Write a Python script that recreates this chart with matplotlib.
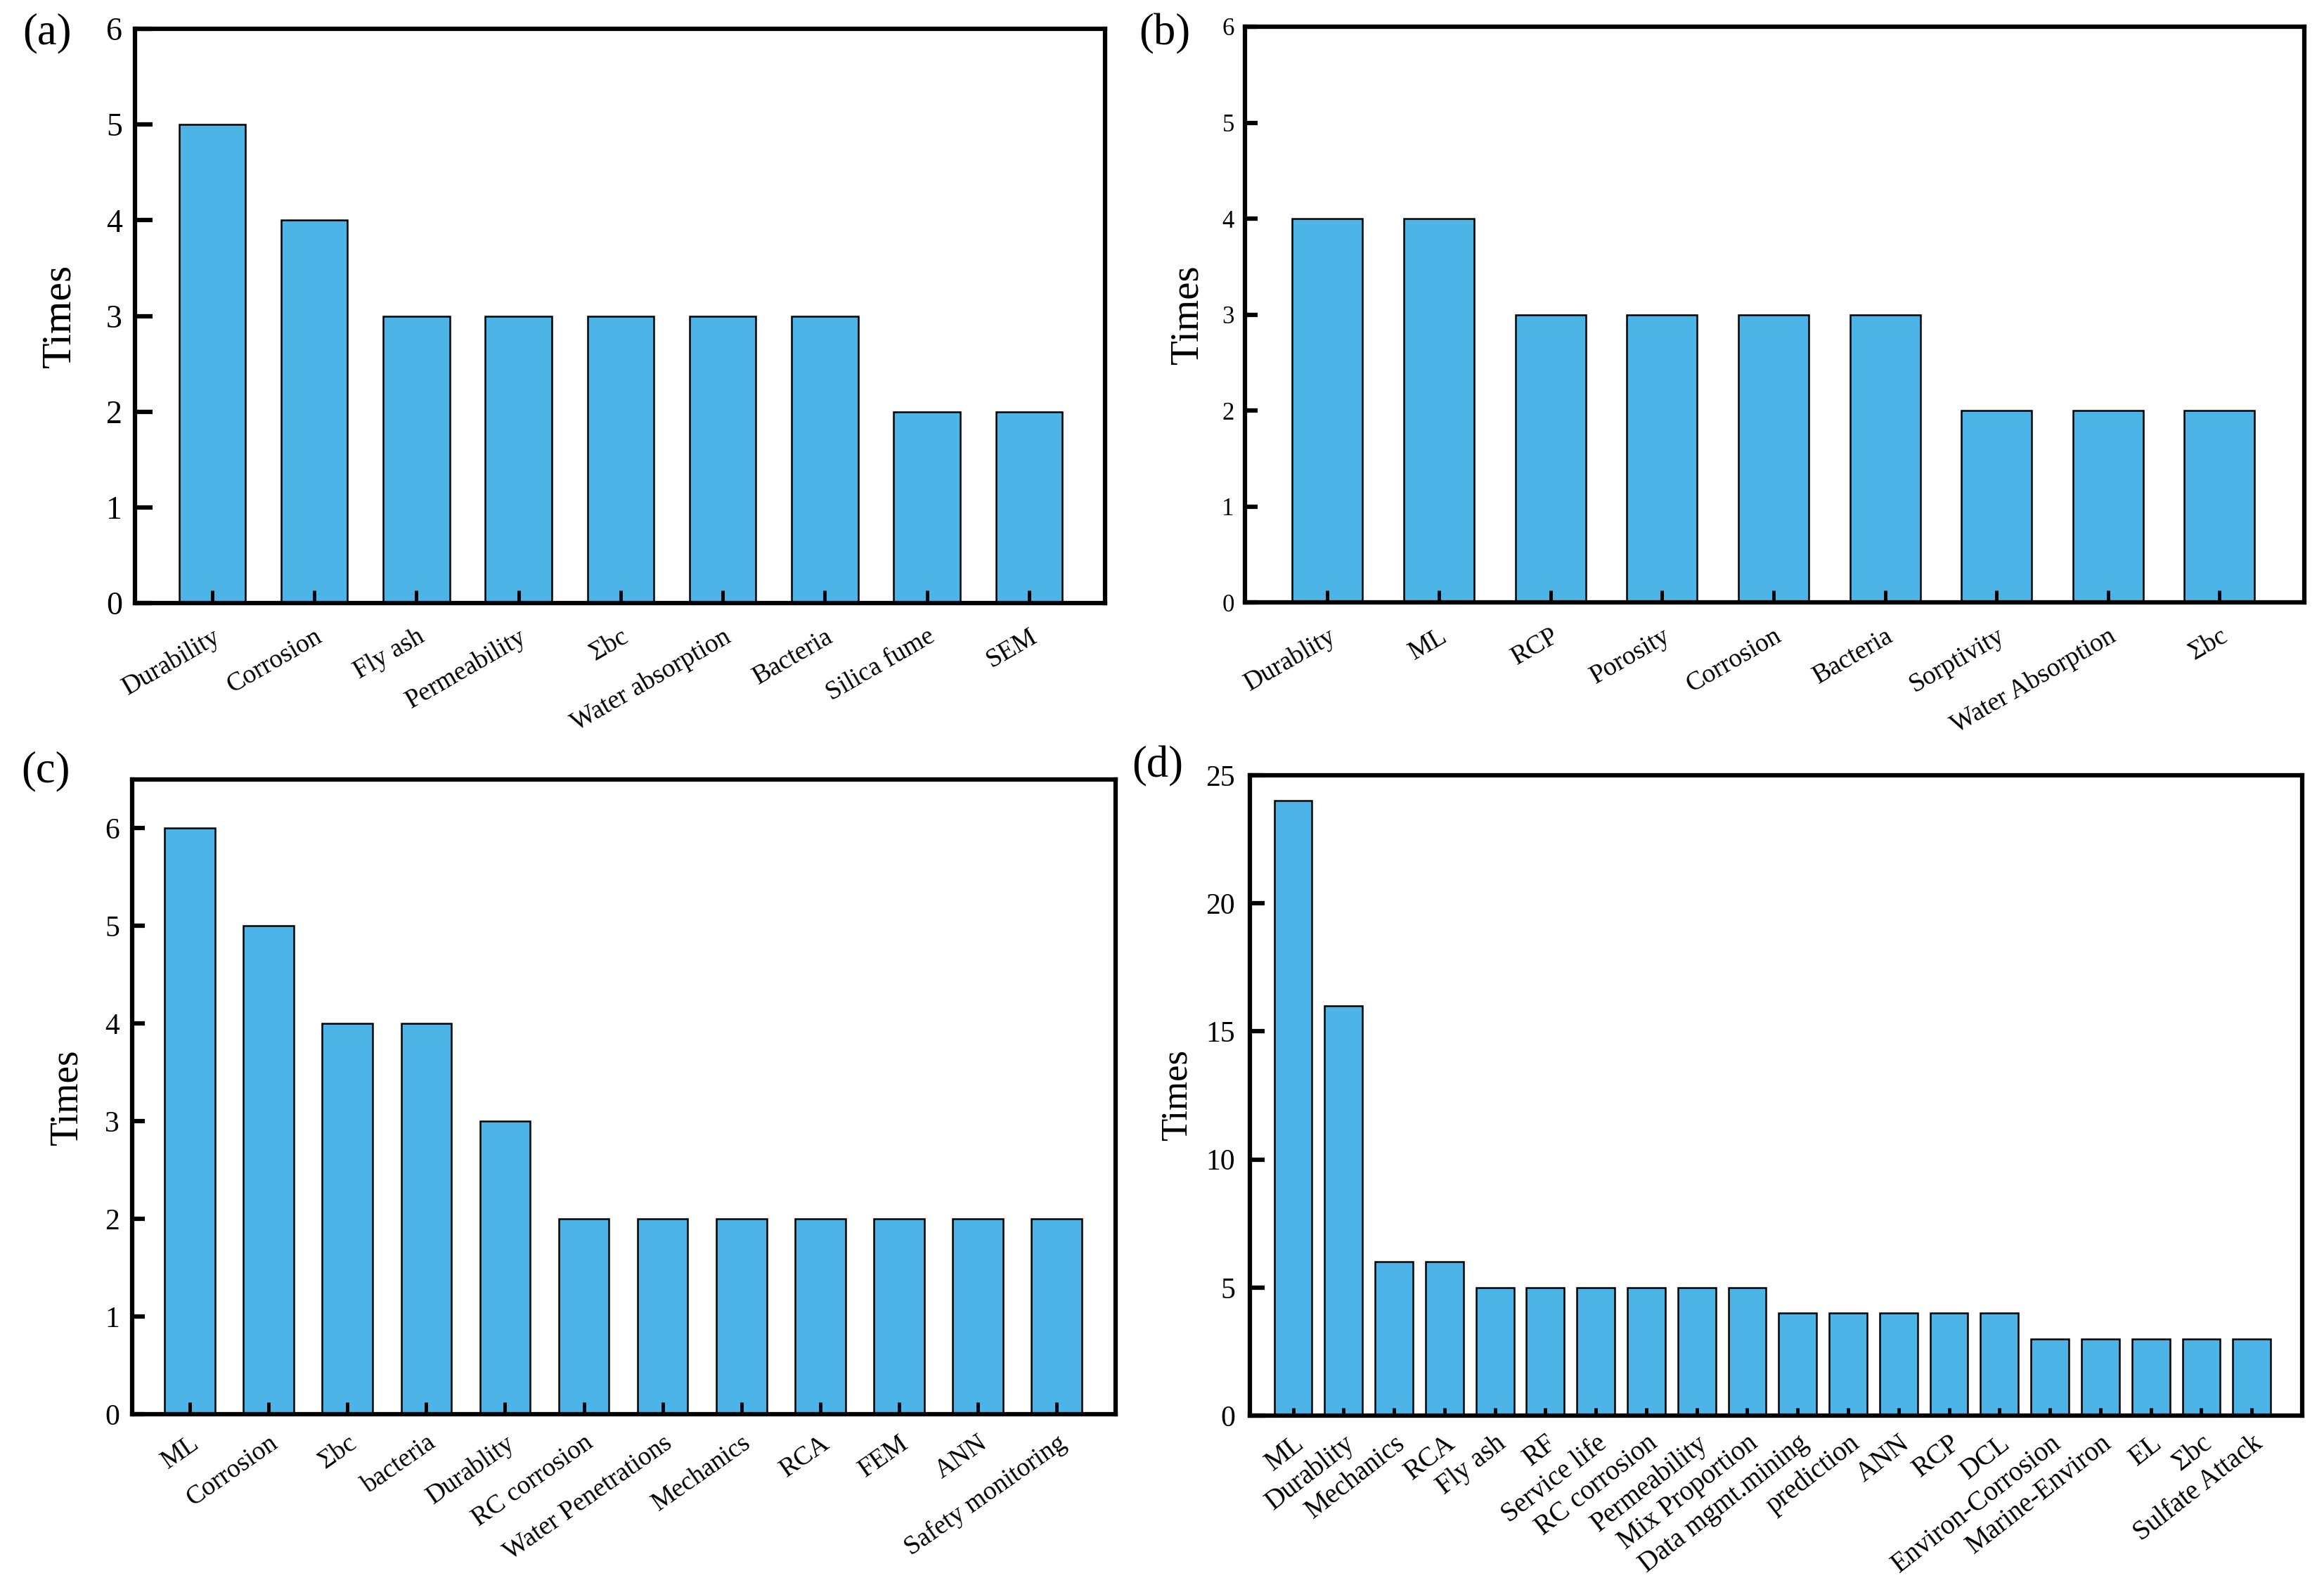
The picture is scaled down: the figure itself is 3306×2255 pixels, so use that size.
import matplotlib
matplotlib.use('Agg')
import matplotlib.pyplot as plt
import matplotlib.transforms as mtransforms

plt.rcParams['font.family'] = ['Liberation Serif', 'DejaVu Serif']

# ---------------- data ----------------
cats_a = ['Durability', 'Corrosion', 'Fly ash', 'Permeability', 'Σbc',
          'Water absorption', 'Bacteria', 'Silica fume', 'SEM']
vals_a = [5, 4, 3, 3, 3, 3, 3, 2, 2]

cats_b = ['Durablity', 'ML', 'RCP', 'Porosity', 'Corrosion', 'Bacteria',
          'Sorptivity', 'Water Absorption', 'Σbc']
vals_b = [4, 4, 3, 3, 3, 3, 2, 2, 2]

cats_c = ['ML', 'Corrosion', 'Σbc', 'bacteria', 'Durablity', 'RC corrosion',
          'Water Penetrations', 'Mechanics', 'RCA', 'FEM', 'ANN',
          'Safety monitoring']
vals_c = [6, 5, 4, 4, 3, 2, 2, 2, 2, 2, 2, 2]

cats_d = ['ML', 'Durablity', 'Mechanics', 'RCA', 'Fly ash', 'RF',
          'Service life', 'RC corrosion', 'Permeability', 'Mix Proportion',
          'Data mgmt.mining', 'prediction', 'ANN', 'RCP', 'DCL',
          'Environ-Corrosion', 'Marine-Environ', 'EL', 'Σbc', 'Sulfate Attack']
vals_d = [24, 16, 6, 6, 5, 5, 5, 5, 5, 5, 4, 4, 4, 4, 4, 3, 3, 3, 3, 3]

yticks_a = [0, 1, 2, 3, 4, 5, 6]
yticks_b = [0, 1, 2, 3, 4, 5, 6]
yticks_c = [0, 1, 2, 3, 4, 5, 6]
yticks_d = [0, 5, 10, 15, 20, 25]

# ---------------- layout ----------------
W, H = 3306, 2255
fig = plt.figure(figsize=(W / 100, H / 100), dpi=100)
fig.patch.set_facecolor('white')

BAR = '#4CB4E6'


def rect(l, t, r, b):
    return [l / W, 1 - b / H, (r - l) / W, (b - t) / H]


panels = [
    dict(cats=cats_a, vals=vals_a, yt=yticks_a, box=(192, 41, 1572, 858),
         xlim=(-0.757, 8.744), ylim=(0, 6), bw=0.65, ytfs=33, ypad=13,
         xtfs=27, rot=30, xpad=22, ylfs=43, ylx=-0.077, tag='(a)',
         tagpos=(32, 47), ytl=18, xtl=13),
    dict(cats=cats_b, vals=vals_b, yt=yticks_b, box=(1771, 38, 3278, 857),
         xlim=(-0.74, 8.76), ylim=(0, 6), bw=0.63, ytfs=25, ypad=11,
         xtfs=27, rot=30, xpad=22, ylfs=41, ylx=-0.054, tag='(b)',
         tagpos=(1620, 48), ytl=13, xtl=12),
    dict(cats=cats_c, vals=vals_c, yt=yticks_c, box=(188, 1109, 1587, 2012),
         xlim=(-0.733, 11.75), ylim=(0, 6.5), bw=0.64, ytfs=30, ypad=13,
         xtfs=27, rot=35, xpad=17, ylfs=40, ylx=-0.066, tag='(c)',
         tagpos=(30, 1097), ytl=13, xtl=12),
    dict(cats=cats_d, vals=vals_d, yt=yticks_d, box=(1778, 1103, 3275, 2014),
         xlim=(-0.857, 20.0), ylim=(0, 25), bw=0.75, ytfs=30, ypad=15,
         xtfs=28, rot=38, xpad=15, ylfs=38, ylx=-0.069, tag='(d)',
         tagpos=(1610, 1090), ytl=15, xtl=8),
]

for p in panels:
    ax = fig.add_axes(rect(*p['box']))
    ax.set_axisbelow(False)
    x = list(range(len(p['cats'])))
    ax.bar(x, p['vals'], width=p['bw'], color=BAR, edgecolor='black',
           linewidth=1.8, zorder=2)
    ax.set_xlim(*p['xlim'])
    ax.set_ylim(*p['ylim'])
    ax.set_yticks(p['yt'])
    ax.set_yticklabels([str(v) for v in p['yt']], fontsize=p['ytfs'])
    ax.set_xticks(x)
    ax.set_xticklabels(p['cats'], fontsize=p['xtfs'], rotation=p['rot'],
                       ha='right', va='top', rotation_mode='anchor')
    off = mtransforms.ScaledTranslation(0.12, 0, fig.dpi_scale_trans)
    for lab in ax.get_xticklabels():
        lab.set_transform(lab.get_transform() + off)
    ax.tick_params(axis='y', direction='in', length=p['ytl'], width=4.5,
                   pad=p['ypad'], right=False)
    ax.tick_params(axis='x', direction='in', length=p['xtl'], width=3.5,
                   pad=p['xpad'], top=False)
    for s in ax.spines.values():
        s.set_linewidth(4.5)
        s.set_zorder(3)
    ax.set_ylabel('Times', fontsize=p['ylfs'], va='center')
    ax.yaxis.set_label_coords(p['ylx'], 0.5)
    fig.text(p['tagpos'][0] / W, 1 - p['tagpos'][1] / H, p['tag'],
             fontsize=45, ha='left', va='center')

fig.savefig('out.png', dpi=100, facecolor='white')
